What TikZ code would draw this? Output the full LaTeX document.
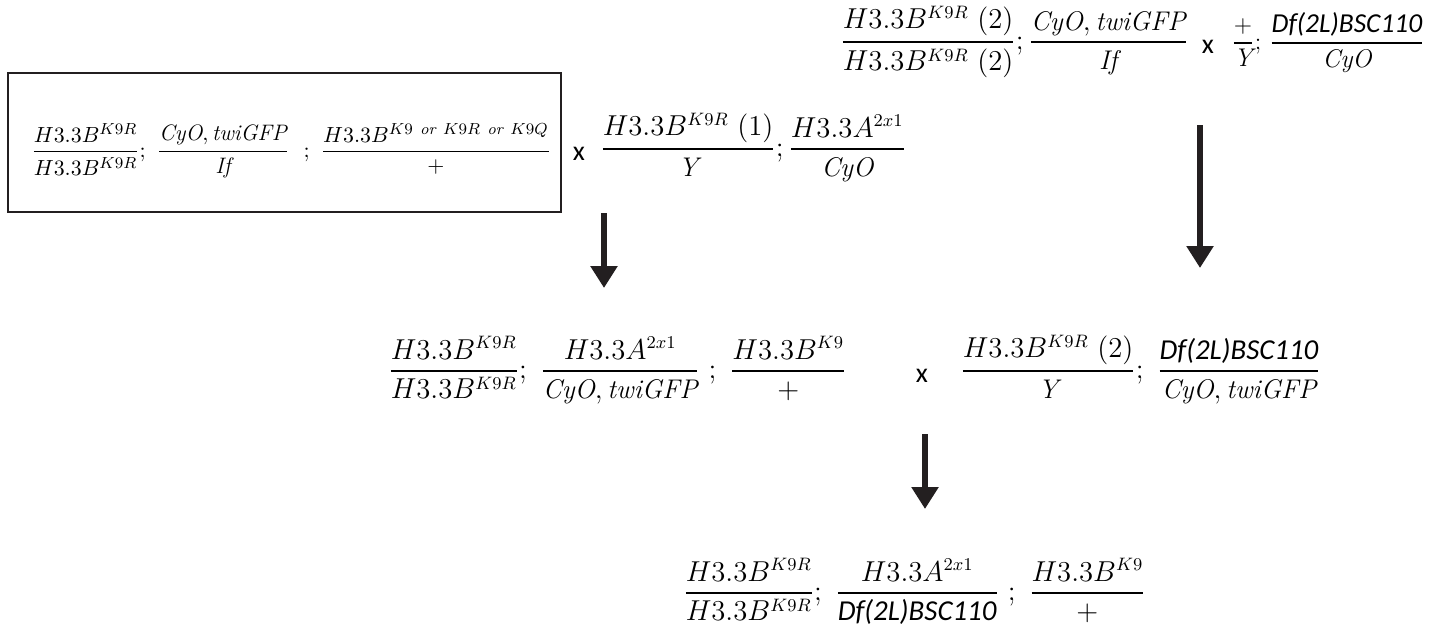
\documentclass[tikz,border=0pt]{standalone}
\usepackage{amsmath}
\usepackage{fontspec}
\newfontfamily\calibrifont{Carlito}[Scale=1.07]
\usetikzlibrary{arrows.meta}
\definecolor{ink}{HTML}{231F20}
\newcommand\fr[2]{\genfrac{}{}{0.9pt}{0}{#1}{#2}}
\newcommand\dfx{\text{\calibrifont\itshape Df(2L)BSC110}}
\newcommand\cyo{\mathit{CyO}}
\newcommand\cyt{\mathit{CyO},\mathit{twiGFP}}
\newcommand\IF{\mathit{If}}
\newcommand\orw{\ \mathit{or}\ }
\begin{document}
\begin{tikzpicture}[x=0.5pt,y=-0.5pt,
  row/.style={inner sep=0pt,anchor=base west,font=\fontsize{13.5}{16}\selectfont},
  toprow/.style={row,font=\fontsize{12.8}{15}\selectfont},
  smallrow/.style={row,font=\fontsize{11.2}{14}\selectfont},
  cross/.style={inner sep=0pt,anchor=base,font=\calibrifont\fontsize{13}{16}\selectfont},
  downarrow/.style={draw=ink,line width=3pt,-{Triangle[width=13pt,length=11pt]}},
  framebox/.style={draw=ink,line width=1.3pt,inner sep=0pt,minimum width=276.5pt,minimum height=69.5pt}]
\useasboundingbox (0,0) rectangle (1445,627);
% row 1
\node[row] (r1a) at (840,49.5) {$\fr{H3.3B^{K9R}\ (2)}{H3.3B^{K9R}\ (2)};\fr{\cyt}{\IF}$};
\node[cross] (x1) at (1208,53) {x};
\node[toprow,anchor=base east] (r1b) at (1425,49) {$\fr{+}{\mathit{Y}};\,\fr{\dfx}{\cyo}$};
% row 2
\node[framebox] (box) at (284.5,142.5) {};
\node[smallrow] (r2a) at (31,157) {$\fr{H3.3B^{K9R}}{H3.3B^{K9R}};\ \fr{\cyt}{\IF}\ \ ;\ \fr{H3.3B^{K9\orw K9R\orw K9Q}}{+}$};
\node[cross] (x2) at (579,160) {x};
\node[row] (r2b) at (600,156.5) {$\fr{H3.3B^{K9R}\ (1)}{\mathit{Y}};\fr{H3.3A^{2x1}}{\cyo}$};
% row 3
\node[row] (r3a) at (388,378.5) {$\fr{H3.3B^{K9R}}{H3.3B^{K9R}};\ \fr{H3.3A^{2x1}}{\cyt}\ ;\ \fr{H3.3B^{K9}}{+}$};
\node[cross] (x3) at (922,382) {x};
\node[row] (r3b) at (960,378.5) {$\fr{H3.3B^{K9R}\ (2)}{\mathit{Y}};\ \fr{\dfx}{\cyt}$};
% row 4
\node[row] (r4) at (683,600.5) {$\fr{H3.3B^{K9R}}{H3.3B^{K9R}};\ \fr{H3.3A^{2x1}}{\dfx}\ ;\ \fr{H3.3B^{K9}}{+}$};
% arrows
\coordinate (a1s) at (604,213); \coordinate (a1e) at (604,288);
\coordinate (a2s) at (1200,125); \coordinate (a2e) at (1200,268);
\coordinate (a3s) at (925,434); \coordinate (a3e) at (925,509);
\draw[downarrow] (a1s) -- (a1e);
\draw[downarrow] (a2s) -- (a2e);
\draw[downarrow] (a3s) -- (a3e);
\end{tikzpicture}
\end{document}
